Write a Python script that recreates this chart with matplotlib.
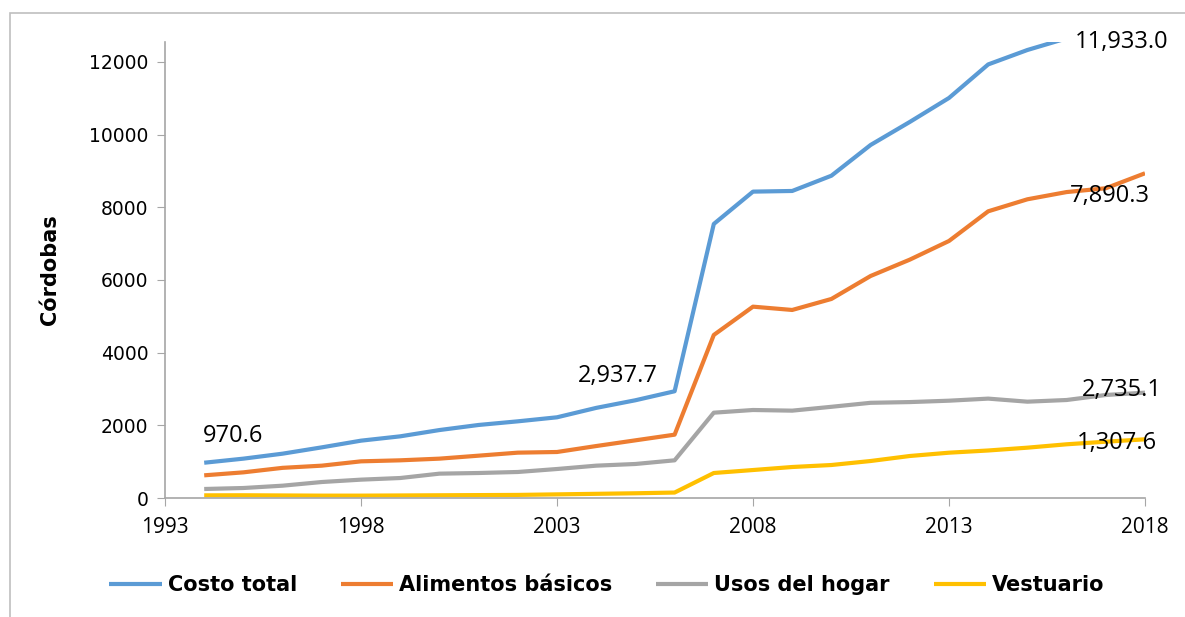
import matplotlib
matplotlib.use("Agg")
import matplotlib.pyplot as plt
from matplotlib.patches import Rectangle

years = list(range(1994, 2019))
costo_total = [970.6, 1083, 1220, 1394, 1578, 1697, 1870, 2010, 2110, 2221, 2480, 2690, 2937.7,
               7542, 8432, 8450, 8870, 9716, 10350, 11010, 11933.0, 12330, 12650, 13000, 13400]
alimentos = [624, 706, 830, 890, 1009, 1037, 1083, 1165, 1248, 1266, 1430, 1587, 1743,
             4487, 5266, 5175, 5478, 6110, 6560, 7074, 7890.3, 8221, 8420, 8525, 8937]
usos_hogar = [248, 275, 339, 440, 505, 550, 670, 688, 716, 798, 890, 936, 1037,
              2348, 2422, 2404, 2510, 2620, 2640, 2678, 2735.1, 2651, 2697, 2835, 2899]
vestuario = [73, 75, 70, 65, 65, 70, 75, 80, 85, 100, 115, 130, 150,
             688, 770, 853, 908, 1018, 1156, 1247, 1307.6, 1385, 1478, 1550, 1615]

series_names = ["Costo total", "Alimentos básicos", "Usos del hogar", "Vestuario"]
series = [costo_total, alimentos, usos_hogar, vestuario]
colors = ["#5B9BD5", "#ED7D31", "#A5A5A5", "#FFC000"]

labels_text = ["970.6", "2,937.7", "11,933.0", "7,890.3", "2,735.1", "1,307.6"]

xticks = [1993, 1998, 2003, 2008, 2013, 2018]
yticks = [0, 2000, 4000, 6000, 8000, 10000, 12000]

fig = plt.figure(figsize=(11.85, 6.17), dpi=100)
ax = fig.add_axes([165/1185, 1-498/617, (1145-165)/1185, (498-42)/617])

for name, vals, c in zip(series_names, series, colors):
    ax.plot(years, vals, color=c, lw=3, label=name, solid_capstyle="butt")

ax.set_xlim(1993, 2018)
ax.set_ylim(0, 12550)
ax.set_xticks(xticks)
ax.set_yticks(yticks)
ax.tick_params(axis="both", direction="out", length=6, color="#a6a6a6", pad=6)
ax.tick_params(axis="y", labelsize=13.5)
ax.tick_params(axis="x", labelsize=15, pad=8)
for t in ax.get_xticklabels():
    t.set_family("Open Sans")
for s in ["top", "right"]:
    ax.spines[s].set_visible(False)
for s in ["left", "bottom"]:
    ax.spines[s].set_color("#a6a6a6")
    ax.spines[s].set_linewidth(1.2)
ax.set_ylabel("Córdobas", fontsize=15, fontweight="bold", family="DejaVu Sans")
ax.yaxis.set_label_coords((60 - 165) / 980, 0.5)

lab_font = dict(fontsize=17, family="Open Sans", color="black")
pos = [(233, 436), (618, 376), (1122, 42), (1110, 196), (1122, 390), (1117, 443)]
pts = [(1994, costo_total[0]), (2006, costo_total[12]), (2014, costo_total[20]),
       (2014, alimentos[20]), (2014, usos_hogar[20]), (2014, vestuario[20])]
for txt, (px, py), xy in zip(labels_text, pos, pts):
    ax.annotate(txt, xy=xy, xytext=(px, 617 - py), textcoords="figure pixels",
                ha="center", va="center", **lab_font)

leg = fig.legend(loc="center", bbox_to_anchor=(607/1185, 1-585/617), ncol=4, frameon=False,
                 prop=dict(size=15, weight="bold"), handlelength=2.5, columnspacing=2.1,
                 handletextpad=0.3)
for line in leg.get_lines():
    line.set_linewidth(3)

fig.patches.append(Rectangle((10/1185, -0.1), 1.2, 1-13/617+0.1, transform=fig.transFigure,
                             fill=False, edgecolor="#bfbfbf", lw=1.2))

fig.savefig("out.png", dpi=100)
